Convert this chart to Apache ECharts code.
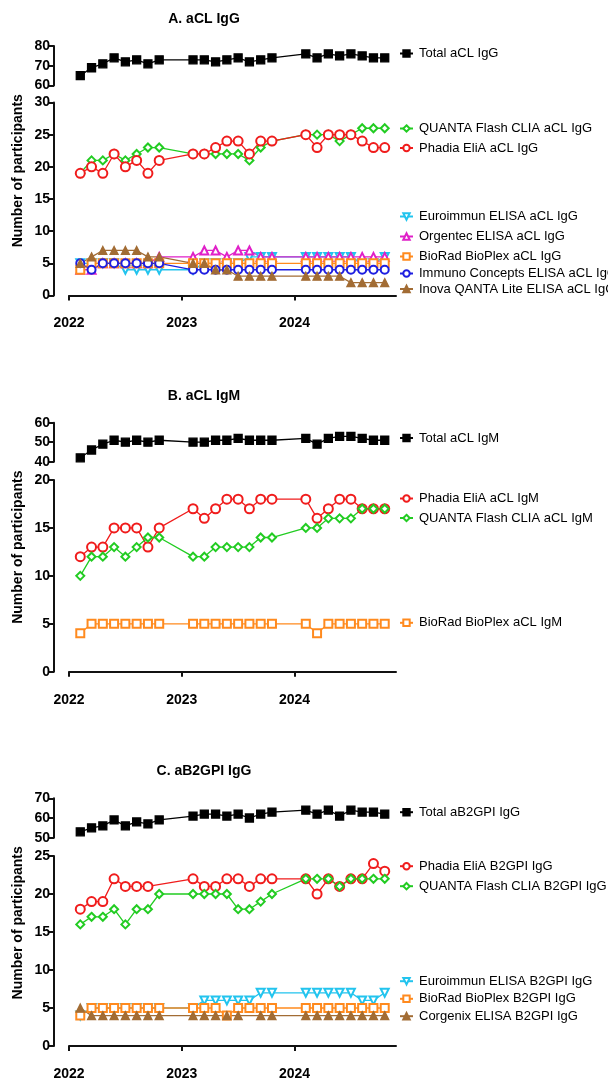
<!DOCTYPE html>
<html><head><meta charset="utf-8">
<script src="https://cdn.jsdelivr.net/npm/echarts@6/dist/echarts.min.js"></script>
<style>html,body{margin:0;padding:0;background:#fff}#c{width:608px;height:1081px}</style>
</head><body><div id="c"></div><script>
// ---- DATA ----
const times = [2022.1,2022.2,2022.3,2022.4,2022.5,2022.6,2022.7,2022.8,
               2023.1,2023.2,2023.3,2023.4,2023.5,2023.6,2023.7,2023.8,
               2024.1,2024.2,2024.3,2024.4,2024.5,2024.6,2024.7,2024.8];
const xTicks = [2022, 2023, 2024];

// Panel A: aCL IgG
const totalAclIgG   = [65,69,71,74,72,73,71,73, 73,73,72,73,74,72,73,74, 76,74,76,75,76,75,74,74];
const quantaAclIgG  = [19,21,21,22,21,22,23,23, 22,22,22,22,22,21,23,24, 25,25,25,24,25,26,26,26];
const phadiaAclIgG  = [19,20,19,22,20,21,19,21, 22,22,23,24,24,22,24,24, 25,23,25,25,25,24,23,23];
const euroAclIgG    = [5,5,5,5,4,4,4,4, 4,5,5,5,5,6,6,6, 6,6,6,6,6,5,5,6];
const orgentecAclIgG= [4,4,5,5,5,5,5,6, 6,7,7,6,7,7,6,6, 6,6,6,6,6,6,6,6];
const bioradAclIgG  = [4,5,5,5,5,5,5,5, 5,5,5,5,5,5,5,5, 5,5,5,5,5,5,5,5];
const immunoAclIgG  = [5,4,5,5,5,5,5,5, 4,4,4,4,4,4,4,4, 4,4,4,4,4,4,4,4];
const inovaAclIgG   = [5,6,7,7,7,7,6,6, 5,5,4,4,3,3,3,3, 3,3,3,3,2,2,2,2];

// Panel B: aCL IgM
const totalAclIgM   = [42,46,49,51,50,51,50,51, 50,50,51,51,52,51,51,51, 52,49,52,53,53,52,51,51];
const phadiaAclIgM  = [12,13,13,15,15,15,13,15, 17,16,17,18,18,17,18,18, 18,16,17,18,18,17,17,17];
const quantaAclIgM  = [10,12,12,13,12,13,14,14, 12,12,13,13,13,13,14,14, 15,15,16,16,16,17,17,17];
const bioradAclIgM  = [4,5,5,5,5,5,5,5, 5,5,5,5,5,5,5,5, 5,4,5,5,5,5,5,5];

// Panel C: aB2GPI IgG
const totalB2gpi    = [53,55,56,59,56,58,57,59, 61,62,62,61,62,60,62,63, 64,62,64,61,64,63,63,62];
const phadiaB2gpi   = [18,19,19,22,21,21,21,null, 22,21,21,22,22,21,22,22, 22,20,22,21,22,22,24,23];
const quantaB2gpi   = [16,17,17,18,16,18,18,20, 20,20,20,20,18,18,19,20, 22,22,22,21,22,22,22,22];
const euroB2gpi     = [4,5,5,5,5,5,5,5, 5,6,6,6,6,6,7,7, 7,7,7,7,7,6,6,7];
const bioradB2gpi   = [4,5,5,5,5,5,5,5, 5,5,5,4,5,5,5,5, 5,5,5,5,5,5,5,5];
const corgenixB2gpi = [5,4,4,4,4,4,4,4, 4,4,4,4,4,null,4,4, 4,4,4,4,4,4,4,4];

// ---- STYLE ----
const FONT = '"Liberation Sans", Arial, Helvetica, sans-serif';
const C = {
  black:'#000000', green:'#22cc22', red:'#f01c1c', cyan:'#22c4ee',
  magenta:'#e020c8', orange:'#ff8a1e', blue:'#1e1ee0', brown:'#a26c34'
};
const STY = {
  total:   {symbol:'rect', size:8, color:C.black},
  quanta:  {symbol:'emptyDiamond', size:8, color:C.green},
  phadia:  {symbol:'emptyCircle', size:9, color:C.red},
  euro:    {symbol:'emptyTriangle', size:8, color:C.cyan, rotate:180},
  orgentec:{symbol:'emptyTriangle', size:8, color:C.magenta},
  biorad:  {symbol:'emptyRect', size:8, color:C.orange},
  immuno:  {symbol:'emptyCircle', size:8, color:C.blue},
  inova:   {symbol:'triangle', size:8, color:C.brown}
};

const panels = [
  {title:'A. aCL IgG', up:{top:46, h:39.5, min:60, max:80}, low:{top:102.5, h:193, max:30},
   series:[
     ['Total aCL IgG', totalAclIgG, 'total', 'up', 54],
     ['QUANTA Flash CLIA aCL IgG', quantaAclIgG, 'quanta', 'low', 129],
     ['Phadia EliA aCL IgG', phadiaAclIgG, 'phadia', 'low', 148.5],
     ['Euroimmun ELISA aCL IgG', euroAclIgG, 'euro', 'low', 217],
     ['Orgentec ELISA aCL IgG', orgentecAclIgG, 'orgentec', 'low', 237],
     ['BioRad BioPlex aCL IgG', bioradAclIgG, 'biorad', 'low', 257],
     ['Immuno Concepts ELISA aCL IgG', immunoAclIgG, 'immuno', 'low', 274],
     ['Inova QANTA Lite ELISA aCL IgG', inovaAclIgG, 'inova', 'low', 289.5]
   ]},
  {title:'B. aCL IgM', up:{top:422.7, h:39, min:40, max:60}, low:{top:480, h:191.7, max:20},
   series:[
     ['Total aCL IgM', totalAclIgM, 'total', 'up', 438.5],
     ['Phadia EliA aCL IgM', phadiaAclIgM, 'phadia', 'low', 499],
     ['QUANTA Flash CLIA aCL IgM', quantaAclIgM, 'quanta', 'low', 518.5],
     ['BioRad BioPlex aCL IgM', bioradAclIgM, 'biorad', 'low', 623.3]
   ]},
  {title:'C. aB2GPI IgG', up:{top:798.3, h:39.4, min:50, max:70}, low:{top:856, h:191.3, max:25},
   series:[
     ['Total aB2GPI IgG', totalB2gpi, 'total', 'up', 812.7],
     ['Phadia EliA B2GPI IgG', phadiaB2gpi, 'phadia', 'low', 866.7],
     ['QUANTA Flash CLIA B2GPI IgG', quantaB2gpi, 'quanta', 'low', 886.7],
     ['Euroimmun ELISA B2GPI IgG', euroB2gpi, 'euro', 'low', 981.7],
     ['BioRad BioPlex B2GPI IgG', bioradB2gpi, 'biorad', 'low', 999.3],
     ['Corgenix ELISA B2GPI IgG', corgenixB2gpi, 'inova', 'low', 1016.7]
   ]}
];

const GL = 69, GR = 212;
const grid = [], xAxis = [], yAxis = [], series = [], legend = [], graphic = [];
const axisStyle = {
  axisLine:{show:true, lineStyle:{color:'#111', width:2}},
  axisTick:{show:true, length:5, lineStyle:{color:'#111', width:2}},
  axisLabel:{color:'#000', fontFamily:FONT, fontWeight:'bold', fontSize:14, margin:4},
  splitLine:{show:false}
};

panels.forEach((p) => {
  const gu = grid.length;
  grid.push({left:GL, right:GR, top:p.up.top, height:p.up.h, containLabel:false});
  grid.push({left:GL, right:GR, top:p.low.top, height:p.low.h, containLabel:false});
  xAxis.push({type:'value', gridIndex:gu, min:2022, max:2024.9, interval:1, show:false});
  xAxis.push(Object.assign({}, axisStyle, {
    type:'value', gridIndex:gu+1, min:2022, max:2024.9, interval:1, position:'bottom', offset:15,
    axisTick:Object.assign({}, axisStyle.axisTick, {customValues:xTicks}),
    axisLabel:Object.assign({}, axisStyle.axisLabel, {customValues:xTicks, margin:6, formatter:v=>String(v)})
  }));
  yAxis.push(Object.assign({}, axisStyle, {type:'value', gridIndex:gu, min:p.up.min, max:p.up.max, interval:10, offset:15}));
  yAxis.push(Object.assign({}, axisStyle, {type:'value', gridIndex:gu+1, min:0, max:p.low.max, interval:5, offset:15}));

  p.series.forEach(([name, vals, key, part, ly]) => {
    const s = STY[key];
    const idx = part === 'up' ? gu : gu+1;
    series.push({
      name, type:'line', xAxisIndex:idx, yAxisIndex:idx,
      data: times.map((t,i)=>[t, vals[i]]).filter(d=>d[1]!=null),
      symbol:s.symbol, symbolSize:s.size, symbolRotate:s.rotate||0,
      showAllSymbol:true,
      lineStyle:{color:s.color, width:1.3},
      itemStyle:{color:s.color, borderColor:s.color, borderWidth:1.3},
      emphasis:{disabled:true}, silent:true
    });
    legend.push({
      data:[name], left:399, top:ly-7, padding:0, itemWidth:13, itemHeight:8, itemGap:0,
      selectedMode:false, orient:'horizontal',
      textStyle:{color:'#000', fontFamily:FONT, fontSize:13, padding:[0,0,0,1]}
    });
  });

  graphic.push({type:'text', x:204, y:p.up.top-27,
    style:{text:p.title, font:'bold 14px '+FONT, fill:'#000', textAlign:'center', textVerticalAlign:'middle', align:'center', verticalAlign:'middle'}});
  const cy = (p.up.top + p.low.top + p.low.h)/2;
  graphic.push({type:'text', x:18, y:cy, rotation:Math.PI/2,
    style:{text:'Number of participants', font:'bold 14px '+FONT, fill:'#000', textAlign:'center', textVerticalAlign:'middle', align:'center', verticalAlign:'middle'}});
});

const chart = echarts.init(document.getElementById('c'), null, {renderer:'canvas'});
chart.setOption({animation:false, backgroundColor:'#fff', grid, xAxis, yAxis, series, legend, graphic});
</script></body></html>
